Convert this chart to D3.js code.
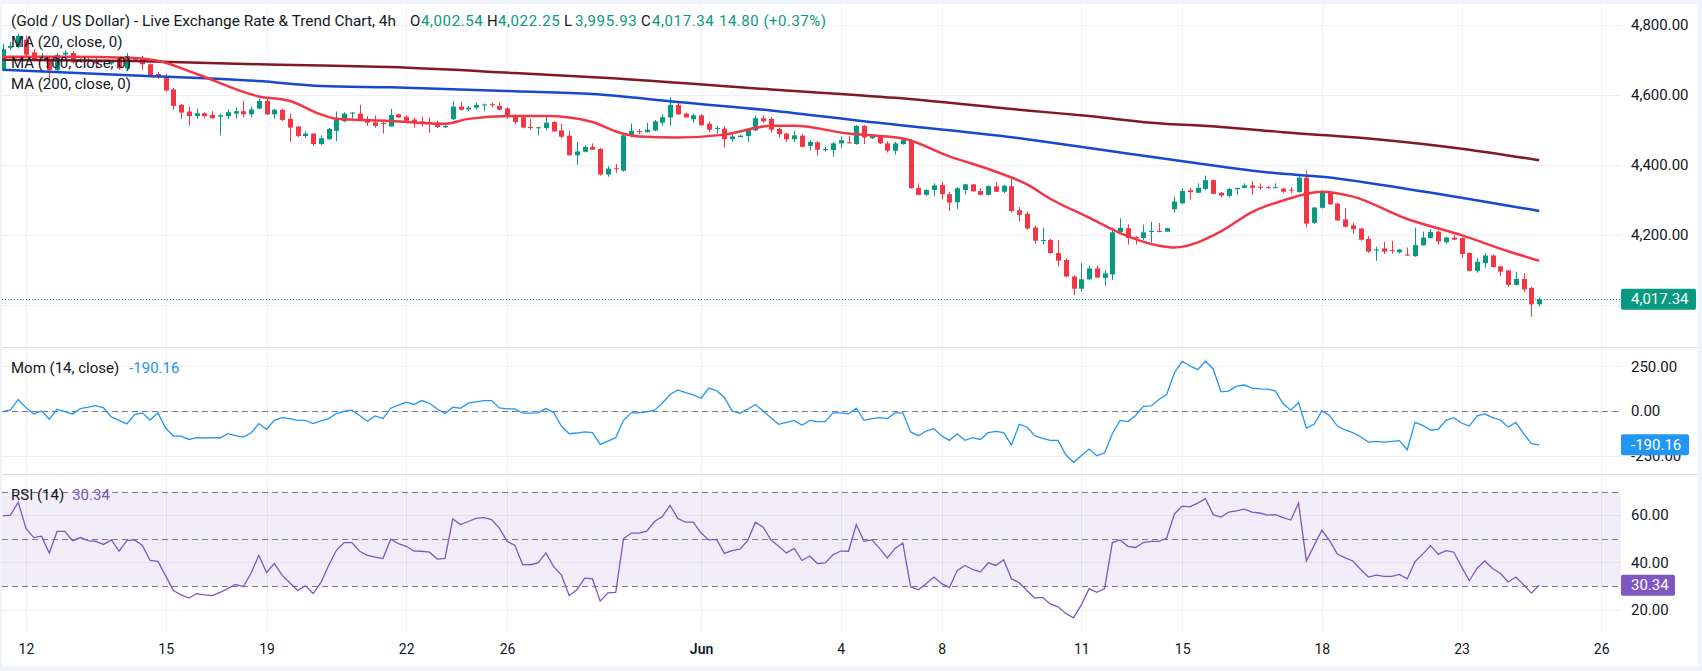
<!DOCTYPE html>
<html>
<head>
<meta charset="utf-8">
<script src="https://cdn.jsdelivr.net/npm/d3@7"></script>
<style>
  body { margin: 0; background: #f0f3fa; }
  svg { display: block; font-family: Roboto, 'Liberation Sans', sans-serif; }
</style>
</head>
<body>
<svg class="chart"></svg>
<script>
// 4h candles
const opens = [4671,4735,4737,4758,4722,4706,4704,4671,4716,4720,4698,4702,4700,4694,4690,4704,4676,4698,4704,4688,
  4660,4654,4616,4572,4553,4540,4548,4543,4538,4540,4547,4554,4545,4561,4583,4545,4558,4532,4510,4483,
  4490,4460,4474,4498,4525,4547,4547,4530,4522,4520,4510,4545,4538,4530,4525,4523,4521,4508,4531,4567,
  4559,4564,4571,4574,4569,4562,4540,4536,4509,4506,4506,4523,4499,4484,4428,4438,4452,4446,4373,4391,
  4384,4484,4497,4494,4499,4521,4536,4572,4547,4531,4542,4518,4504,4504,4474,4480,4483,4499,4534,4532,
  4503,4490,4474,4484,4455,4465,4443,4443,4462,4465,4460,4512,4477,4483,4462,4441,4460,4471,4335,4315,
  4329,4343,4317,4294,4329,4345,4326,4315,4339,4324,4340,4271,4261,4222,4184,4186,4149,4129,4082,4047,
  4074,4105,4078,4088,4209,4220,4195,4192,4209,4212,4210,4274,4291,4328,4321,4332,4357,4321,4312,4331,
  4335,4342,4338,4337,4335,4333,4330,4323,4364,4235,4278,4323,4290,4245,4228,4219,4189,4156,4162,4157,
  4151,4145,4140,4171,4192,4210,4180,4193,4192,4149,4098,4120,4142,4111,4099,4058,4075,4049,4002.54];
const highs = [4747,4752,4775,4769,4731,4720,4711,4720,4728,4726,4706,4708,4706,4700,4700,4708,4720,4708,4712,4690,
  4665,4660,4620,4575,4567,4561,4551,4554,4547,4559,4565,4583,4567,4591,4591,4561,4561,4547,4512,4496,
  4492,4485,4506,4553,4551,4552,4572,4540,4542,4523,4561,4547,4543,4536,4538,4536,4527,4514,4582,4581,
  4569,4578,4576,4578,4580,4565,4545,4540,4532,4510,4540,4525,4518,4498,4466,4457,4462,4449,4397,4403,
  4487,4519,4503,4521,4529,4545,4594,4578,4550,4547,4545,4525,4512,4512,4495,4486,4503,4542,4542,4537,
  4507,4492,4498,4488,4471,4468,4452,4466,4482,4482,4514,4514,4488,4485,4468,4466,4477,4475,4348,4331,
  4348,4353,4324,4337,4347,4346,4334,4342,4352,4344,4364,4280,4267,4228,4222,4189,4186,4134,4085,4120,
  4113,4113,4100,4222,4248,4231,4197,4230,4238,4235,4220,4310,4334,4334,4348,4370,4359,4323,4334,4335,
  4348,4355,4348,4340,4348,4335,4337,4370,4384,4280,4328,4326,4293,4278,4235,4221,4197,4167,4181,4184,
  4160,4165,4221,4210,4217,4213,4196,4200,4195,4151,4135,4148,4145,4113,4101,4096,4091,4052,4022.25];
const lows = [4668,4728,4733,4709,4696,4700,4643,4668,4712,4690,4695,4694,4676,4690,4686,4672,4670,4695,4671,4652,
  4646,4610,4558,4532,4512,4532,4534,4532,4485,4532,4532,4536,4536,4559,4543,4532,4526,4466,4480,4477,
  4455,4457,4472,4468,4523,4534,4525,4512,4507,4490,4510,4534,4525,4507,4510,4492,4506,4506,4529,4556,
  4554,4558,4554,4565,4556,4532,4516,4505,4501,4485,4499,4495,4476,4427,4401,4436,4444,4370,4367,4378,
  4381,4479,4488,4493,4497,4512,4512,4543,4536,4521,4512,4494,4490,4450,4466,4479,4466,4497,4521,4492,
  4479,4466,4466,4451,4441,4427,4438,4424,4449,4462,4458,4460,4474,4460,4436,4430,4458,4333,4313,4312,
  4312,4302,4269,4275,4316,4324,4315,4313,4323,4320,4264,4239,4215,4176,4173,4147,4111,4080,4028,4039,
  4071,4077,4055,4072,4206,4173,4173,4186,4179,4208,4210,4264,4288,4301,4321,4328,4317,4308,4308,4315,
  4334,4315,4330,4332,4334,4320,4320,4321,4222,4232,4276,4286,4241,4222,4204,4184,4149,4126,4146,4147,
  4148,4140,4138,4170,4190,4173,4176,4186,4135,4096,4093,4107,4107,4083,4052,4056,4038,3967,3995.93];
const closes = [4731,4740,4769,4715,4700,4712,4671,4715,4721,4693,4702,4698,4690,4698,4697,4676,4712,4702,4688,4654,
  4652,4613,4569,4550,4540,4548,4540,4534,4542,4551,4554,4545,4559,4583,4545,4558,4529,4507,4483,4490,
  4460,4477,4503,4529,4547,4550,4529,4521,4512,4517,4543,4536,4527,4521,4518,4518,4509,4512,4567,4558,
  4564,4572,4573,4571,4558,4540,4523,4507,4506,4508,4521,4496,4481,4428,4439,4452,4444,4373,4390,4389,
  4485,4498,4495,4501,4525,4537,4572,4545,4536,4542,4514,4501,4506,4474,4482,4484,4501,4534,4525,4501,
  4488,4474,4485,4452,4466,4444,4446,4462,4471,4463,4512,4479,4484,4462,4441,4462,4473,4334,4315,4329,
  4342,4317,4293,4334,4345,4325,4315,4340,4324,4341,4269,4258,4219,4184,4186,4149,4127,4082,4047,4074,
  4105,4079,4091,4208,4221,4192,4193,4208,4212,4210,4220,4296,4326,4323,4335,4357,4318,4313,4332,4335,
  4342,4335,4337,4336,4337,4324,4329,4364,4233,4279,4321,4288,4242,4224,4217,4187,4153,4159,4153,4156,
  4159,4143,4172,4193,4209,4182,4193,4187,4146,4098,4124,4142,4109,4096,4058,4075,4045,4002.54,4017.34];

// moving averages, sampled as [bar, value]
const ma20 = [[0,4709],[8,4709],[17,4706],[20,4698],[25,4660],[33,4596],[37,4583],[41,4545],[43,4532],[50,4526],
  [57,4518],[60,4532],[66,4540],[70,4540],[76,4523],[79,4496],[82,4482],[87,4479],[93,4487],[99,4512],
  [102,4512],[109,4490],[116,4476],[122,4425],[128,4381],[132,4345],[135,4304],[140,4250],[144,4206],
  [149,4170],[151,4165],[157,4211],[161,4266],[165,4299],[170,4324],[174,4310],[181,4246],[188,4200],
  [194,4154],[198,4127]];
const ma100 = [[0,4672],[17,4656],[33,4640],[41,4626],[50,4622],[66,4611],[76,4603],[87,4580],[99,4556],
  [111,4525],[132,4474],[140,4449],[153,4408],[165,4375],[170,4367],[181,4332],[198,4269]];
const ma200 = [[0,4701],[17,4697],[33,4688],[50,4680],[66,4663],[78,4649],[99,4616],[115,4592],[132,4556],
  [140,4540],[148,4521],[157,4509],[165,4494],[177,4474],[188,4447],[198,4414]];

const momentum = [-4,6,64,17,-17,0,-47,9,-4,-17,13,21,30,17,-34,-53,-73,-21,-11,-51,-11,-96,-141,-141,-160,
  -150,-152,-150,-152,-128,-139,-147,-124,-71,
  -103,-53,-38,-43,-53,-53,-71,-56,-43,-15,-2,4,-26,-58,-28,-43,15,32,49,36,58,43,11,-15,21,15,43,51,58,58,17,11,11,
  -13,-13,-11,13,-9,-85,-128,-124,-118,-122,-188,-169,-150,-53,-11,-11,-6,4,43,92,118,103,90,71,128,113,75,0,-13,9,36,0,-38,
  -75,-64,-53,-81,-53,-60,-60,-11,-11,-17,15,-53,-43,-38,-43,-11,-11,-118,-139,-113,-100,-139,-165,-128,-165,-150,-160,-122,-115,-122,-192,-75,-90,
  -139,-154,-165,-165,-246,-288,-252,-214,-252,-235,-128,-53,-60,-26,26,28,64,92,214,278,252,231,278,235,107,111,139,145,128,124,122,113,40,
  4,47,-96,-75,0,-26,-85,-107,-122,-145,-175,-171,-175,-171,-167,-218,-64,-81,-107,-103,-53,-38,-68,-85,-28,-17,-38,-51,-90,-64,-128,-184,-190.16];
const rsi = [59.7,60.0,65.4,54.4,50.5,51.1,44.0,53.1,53.1,49.2,50.5,49.2,48.9,47.6,49.5,44.8,49.2,49.5,47.2,40.8,40.4,34.3,
  28.1,26.2,24.9,26.8,26.2,25.9,27.3,28.9,30.7,29.7,35.4,43.0,
  35.7,39.5,34.6,31.4,28.1,30.1,26.8,31.4,38.7,45.1,48.4,48.4,44.7,43.0,42.2,41.6,49.8,47.9,46.8,44.8,44.7,44.3,41.4,41.7,58.4,56.0,57.3,58.6,58.9,58.1,54.5,48.9,47.2,
  39.1,39.0,39.8,44.0,38.2,34.6,26.0,28.4,33.3,33.0,23.6,27.1,27.3,50.0,52.4,52.4,53.2,57.3,59.4,64.1,58.6,57.0,57.0,52.4,49.5,49.7,43.8,45.0,45.6,49.2,57.0,54.9,49.5,
  46.8,44.0,45.9,40.8,42.7,39.5,39.8,43.2,44.8,44.7,56.0,48.9,49.5,45.9,41.9,45.9,48.2,29.7,28.4,31.0,33.8,31.0,29.3,36.5,38.7,37.0,35.9,39.8,38.7,41.1,33.0,31.4,28.1,
  24.9,25.2,22.4,21.2,18.4,16.5,22.0,28.9,27.3,28.9,48.4,49.5,46.8,46.3,48.4,48.9,48.9,50.3,60.5,63.8,63.5,65.1,67.0,60.2,59.2,61.3,61.8,62.5,61.3,60.9,60.0,60.2,58.9,
  57.9,65.1,40.6,47.2,53.6,49.2,43.5,41.9,40.6,37.0,33.8,34.6,34.1,34.1,34.9,33.0,40.3,43.5,47.1,43.5,45.0,44.3,38.2,32.2,37.5,40.6,37.4,35.4,31.7,33.8,30.6,27.0,30.34];

const timeTicks = [3, 21, 34, 52, 65, 90, 108, 121, 139, 152, 170, 188, 206];
const timeLabels = ['12', '15', '19', '22', '26', 'Jun', '4', '8', '11', '15', '18', '23', '26'];
const priceGrid = [4800, 4600, 4400, 4200, 4000];
const priceTicks = [4800, 4600, 4400, 4200];
const momTicks = [250, 0, -250];
const rsiTicks = [60, 40, 20];
const rsiLevels = [70, 50, 30];
const headerValues = [['O', '4,002.54'], ['H', '4,022.25'], ['L', '3,995.93'], ['C', '4,017.34']];

const width = 1702;
const height = 671;
const plotLeft = 2;
const plotRight = 1621;
const main = { top: 4, bottom: 347 };
const momPane = { top: 348, bottom: 474 };
const rsiPane = { top: 475, bottom: 632 };

const up = '#089981';
const down = '#f23645';
const gridColor = '#eef0f4';
const textColor = '#131722';

const svg = d3.select('.chart')
  .attr('width', width)
  .attr('height', height);

svg.append('rect')
  .attr('width', width).attr('height', height)
  .attr('fill', '#f0f3fa');
svg.append('rect')
  .attr('x', 2).attr('y', 4)
  .attr('width', 1696).attr('height', 662)
  .attr('fill', '#fff');

const x = d3.scaleLinear().domain([-0.35, 208.55]).range([0, plotRight]);
const yPrice = d3.scaleLinear().domain([4000, 4800]).range([305.2, 25]);
const yMom = d3.scaleLinear().domain([-250, 250]).range([455.5, 366.3]);
const yRsi = d3.scaleLinear().domain([30, 70]).range([586, 491.5]);

svg.append('defs').append('clipPath').attr('id', 'clipMain')
  .append('rect')
  .attr('x', plotLeft).attr('y', main.top)
  .attr('width', plotRight - plotLeft).attr('height', main.bottom - main.top);

// grid
const grid = svg.append('g').attr('stroke', gridColor).attr('stroke-width', 1);
grid.selectAll('.vgrid')
  .data(timeTicks)
  .enter()
  .append('line')
  .attr('x1', d => Math.round(x(d)) + 0.5)
  .attr('x2', d => Math.round(x(d)) + 0.5)
  .attr('y1', main.top)
  .attr('y2', rsiPane.bottom);
grid.selectAll('.pgrid')
  .data(priceGrid)
  .enter()
  .append('line')
  .attr('x1', plotLeft).attr('x2', plotRight)
  .attr('y1', d => Math.round(yPrice(d)) + 0.5)
  .attr('y2', d => Math.round(yPrice(d)) + 0.5);
grid.selectAll('.mgrid')
  .data(momTicks)
  .enter()
  .append('line')
  .attr('x1', plotLeft).attr('x2', plotRight)
  .attr('y1', d => Math.round(yMom(d)) + 0.5)
  .attr('y2', d => Math.round(yMom(d)) + 0.5);
grid.selectAll('.rgrid')
  .data(rsiTicks)
  .enter()
  .append('line')
  .attr('x1', plotLeft).attr('x2', plotRight)
  .attr('y1', d => Math.round(yRsi(d)) + 0.5)
  .attr('y2', d => Math.round(yRsi(d)) + 0.5);

// pane separators
svg.selectAll('.sep')
  .data([main.bottom, momPane.bottom])
  .enter()
  .append('line')
  .attr('x1', 2).attr('x2', 1698)
  .attr('y1', d => d + 0.5).attr('y2', d => d + 0.5)
  .attr('stroke', '#dcdfe6');

// RSI background band + level lines
svg.append('rect')
  .attr('x', plotLeft)
  .attr('y', yRsi(70))
  .attr('width', plotRight - plotLeft)
  .attr('height', yRsi(30) - yRsi(70))
  .attr('fill', 'rgba(126, 87, 194, 0.1)');
svg.selectAll('.rlevel')
  .data(rsiLevels)
  .enter()
  .append('line')
  .attr('x1', plotLeft).attr('x2', plotRight)
  .attr('y1', d => Math.round(yRsi(d)) + 0.5)
  .attr('y2', d => Math.round(yRsi(d)) + 0.5)
  .attr('stroke', '#787b86')
  .attr('stroke-dasharray', '6,4');
svg.append('line')
  .attr('x1', plotLeft).attr('x2', plotRight)
  .attr('y1', Math.round(yMom(0)) + 0.5)
  .attr('y2', Math.round(yMom(0)) + 0.5)
  .attr('stroke', '#787b86')
  .attr('stroke-dasharray', '6,4');

// last price line
const last = closes[closes.length - 1];
svg.append('line')
  .attr('x1', plotLeft).attr('x2', plotRight)
  .attr('y1', Math.round(yPrice(last)) + 0.5)
  .attr('y2', Math.round(yPrice(last)) + 0.5)
  .attr('stroke', up)
  .attr('stroke-dasharray', '1,2');

// candles
const bars = svg.append('g').attr('clip-path', 'url(#clipMain)');
const candles = bars.selectAll('g')
  .data(closes.map((c, i) => ({ i, o: opens[i], h: highs[i], l: lows[i], c })))
  .enter()
  .append('g')
  .attr('fill', d => (d.c >= d.o ? up : down))
  .attr('stroke', d => (d.c >= d.o ? up : down));
candles.append('line')
  .attr('x1', d => Math.round(x(d.i)) + 0.5)
  .attr('x2', d => Math.round(x(d.i)) + 0.5)
  .attr('y1', d => yPrice(d.h))
  .attr('y2', d => yPrice(d.l));
candles.append('rect')
  .attr('stroke', 'none')
  .attr('x', d => Math.round(x(d.i)) - 2)
  .attr('width', 5)
  .attr('y', d => yPrice(Math.max(d.o, d.c)))
  .attr('height', d => Math.max(1, Math.abs(yPrice(d.o) - yPrice(d.c))));

// moving averages
const maLine = d3.line()
  .x(d => x(d[0]))
  .y(d => yPrice(d[1]))
  .curve(d3.curveMonotoneX);
const maSeries = [
  { data: ma200, color: '#801922' },
  { data: ma100, color: '#1848cc' },
  { data: ma20, color: '#f23645' }
];
bars.selectAll('.ma')
  .data(maSeries)
  .enter()
  .append('path')
  .attr('d', d => maLine(d.data))
  .attr('fill', 'none')
  .attr('stroke', d => d.color)
  .attr('stroke-width', 2.5)
  .attr('stroke-linejoin', 'round');

// momentum + RSI lines
svg.append('path')
  .attr('d', d3.line().x((d, i) => x(i)).y(d => yMom(d))(momentum))
  .attr('fill', 'none')
  .attr('stroke', '#2196f3')
  .attr('stroke-width', 1.3);
svg.append('path')
  .attr('d', d3.line().x((d, i) => x(i)).y(d => yRsi(d))(rsi))
  .attr('fill', 'none')
  .attr('stroke', '#7e57c2')
  .attr('stroke-width', 1.3);

// axes
function styleAxis(g, size) {
  g.select('.domain').remove();
  g.selectAll('text')
    .attr('fill', textColor)
    .attr('font-size', size)
    .attr('font-family', 'Roboto, sans-serif');
}
svg.append('g')
  .attr('transform', `translate(${plotRight},0)`)
  .call(d3.axisRight(yPrice).tickValues(priceTicks).tickSize(0).tickPadding(10)
    .tickFormat(d3.format(',.2f')))
  .call(g => styleAxis(g, 15));
svg.append('g')
  .attr('transform', `translate(${plotRight},0)`)
  .call(d3.axisRight(yMom).tickValues(momTicks).tickSize(0).tickPadding(10)
    .tickFormat(d => d.toFixed(2)))
  .call(g => styleAxis(g, 15));
svg.append('g')
  .attr('transform', `translate(${plotRight},0)`)
  .call(d3.axisRight(yRsi).tickValues(rsiTicks).tickSize(0).tickPadding(10)
    .tickFormat(d => d.toFixed(2)))
  .call(g => styleAxis(g, 15));
svg.append('g')
  .attr('transform', `translate(0,${rsiPane.bottom + 4})`)
  .call(d3.axisBottom(x).tickValues(timeTicks).tickSize(0).tickPadding(8)
    .tickFormat((d, i) => timeLabels[i]))
  .call(g => styleAxis(g, 14))
  .call(g => g.selectAll('text').attr('font-weight', (d, i) => (timeLabels[i] === 'Jun' ? 600 : 400)));

// last value tags
const tags = [
  { y: yPrice(last), text: d3.format(',.2f')(last), color: up, w: 75 },
  { y: yMom(momentum[momentum.length - 1]), text: momentum[momentum.length - 1].toFixed(2), color: '#2196f3', w: 68 },
  { y: yRsi(rsi[rsi.length - 1]), text: rsi[rsi.length - 1].toFixed(2), color: '#7e57c2', w: 54 }
];
const tag = svg.selectAll('.tag')
  .data(tags)
  .enter()
  .append('g');
tag.append('rect')
  .attr('x', plotRight)
  .attr('y', d => d.y - 10.5)
  .attr('width', d => d.w)
  .attr('height', 21)
  .attr('rx', 2)
  .attr('fill', d => d.color);
tag.append('text')
  .attr('x', plotRight + 10)
  .attr('y', d => d.y)
  .attr('dy', '0.35em')
  .attr('fill', '#fff')
  .attr('font-size', 15)
  .text(d => d.text);

// legends
const legend = svg.append('g')
  .attr('font-size', 15)
  .attr('fill', textColor);
const title = legend.append('text').attr('y', 21).attr('dy', '0.35em');
title.append('tspan').attr('x', 11).attr('font-size', 15.4)
  .text('(Gold / US Dollar) - Live Exchange Rate & Trend Chart, 4h');
headerValues.forEach((p, i) => {
  title.append('tspan').attr('x', 410 + i * 77).text(p[0]);
  title.append('tspan').attr('x', 421 + i * 77).attr('fill', up)
    .attr('letter-spacing', 0.6).text(p[1]);
});
title.append('tspan').attr('x', 719).attr('fill', up)
  .attr('letter-spacing', 0.5).text('14.80 (+0.37%)');

legend.selectAll('.maLabel')
  .data(['MA (20, close, 0)', 'MA (100, close, 0)', 'MA (200, close, 0)'])
  .enter()
  .append('text')
  .attr('x', 11)
  .attr('y', (d, i) => 42 + i * 21)
  .attr('dy', '0.35em')
  .text(d => d);

const momLabel = legend.append('text').attr('x', 11).attr('y', 367.5).attr('dy', '0.35em');
momLabel.append('tspan').text('Mom (14, close)');
momLabel.append('tspan').attr('dx', 10).attr('fill', '#2196f3').text(momentum[momentum.length - 1].toFixed(2));

const rsiLabel = legend.append('text').attr('x', 11).attr('y', 494.5).attr('dy', '0.35em');
rsiLabel.append('tspan').text('RSI (14)');
rsiLabel.append('tspan').attr('dx', 8).attr('fill', '#7e57c2').text(rsi[rsi.length - 1].toFixed(2));
</script>
</body>
</html>
